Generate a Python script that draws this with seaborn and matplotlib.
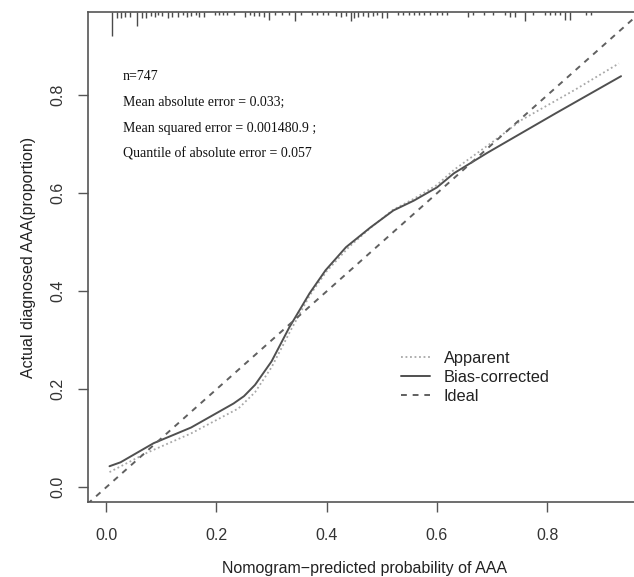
import matplotlib
matplotlib.use("Agg")
import matplotlib.pyplot as plt
import matplotlib.transforms as mtransforms
import seaborn as sns
import pandas as pd
import numpy as np

# ---- data ----
bias_x = [0.006, 0.026, 0.086, 0.154, 0.231, 0.250, 0.270, 0.300, 0.332, 0.369, 0.398,
          0.435, 0.479, 0.521, 0.558, 0.600, 0.631, 0.692, 0.815, 0.934]
bias_y = [0.043, 0.051, 0.090, 0.122, 0.171, 0.186, 0.209, 0.257, 0.326, 0.396, 0.443,
          0.490, 0.530, 0.565, 0.585, 0.612, 0.641, 0.683, 0.763, 0.839]

appar_x = [0.006, 0.075, 0.154, 0.240, 0.270, 0.300, 0.335, 0.370, 0.400, 0.440, 0.480,
           0.520, 0.560, 0.600, 0.631, 0.700, 0.754, 0.850, 0.930]
appar_y = [0.031, 0.071, 0.110, 0.161, 0.194, 0.245, 0.321, 0.393, 0.441, 0.490, 0.530,
           0.566, 0.590, 0.617, 0.648, 0.704, 0.750, 0.811, 0.865]

ideal_x = [-0.05, 1.0]
ideal_y = [-0.05, 1.0]

# rug (histogram of predicted probabilities along the top)
rug_x = [0.010, 0.020, 0.027, 0.035, 0.044, 0.056, 0.065, 0.073, 0.081, 0.088, 0.094,
         0.102, 0.112, 0.120, 0.130, 0.139, 0.147, 0.154, 0.163, 0.169, 0.177, 0.197,
         0.204, 0.212, 0.220, 0.231, 0.252, 0.261, 0.269, 0.278, 0.287, 0.296, 0.307,
         0.319, 0.332, 0.342, 0.353, 0.374, 0.383, 0.393, 0.402, 0.417, 0.426, 0.435,
         0.445, 0.449, 0.457, 0.466, 0.475, 0.484, 0.492, 0.500, 0.509, 0.530, 0.539,
         0.549, 0.558, 0.567, 0.576, 0.588, 0.600, 0.610, 0.619, 0.656, 0.665, 0.686,
         0.701, 0.723, 0.732, 0.741, 0.760, 0.775, 0.796, 0.806, 0.815, 0.824, 0.833,
         0.842, 0.870, 0.879]
rug_n = [24, 6, 6, 5, 5, 14, 6, 6, 4, 5, 3,
         4, 6, 5, 5, 3, 5, 4, 3, 5, 5, 3,
         3, 3, 3, 3, 5, 3, 4, 4, 5, 8, 3,
         3, 3, 9, 3, 3, 3, 3, 3, 4, 5, 4,
         9, 6, 5, 4, 5, 4, 3, 6, 6, 3, 3,
         3, 3, 3, 3, 3, 3, 3, 3, 5, 3, 3,
         3, 3, 5, 5, 9, 3, 3, 3, 3, 3, 8,
         8, 3, 3]

stats_lines = ["n=747",
               "Mean absolute error = 0.033;",
               "Mean squared error = 0.001480.9 ;",
               "Quantile of absolute error = 0.057"]
x_ticks = [0.0, 0.2, 0.4, 0.6, 0.8]
y_ticks = [0.0, 0.2, 0.4, 0.6, 0.8]
x_label = "Nomogram\u2212predicted probability of AAA"
y_label = "Actual diagnosed AAA(proportion)"

# ---- styling ----
sns.set_style("ticks")
plt.rcParams['font.family'] = ['Liberation Sans', 'DejaVu Sans']

W, H = 634, 577
fig = plt.figure(figsize=(W / 100, H / 100), dpi=100)
ax = fig.add_axes([88 / W, (H - 502) / H, (W - 88) / W + 0.01, 490 / H])

df_b = pd.DataFrame({"x": bias_x, "y": bias_y})
df_a = pd.DataFrame({"x": appar_x, "y": appar_y})
df_i = pd.DataFrame({"x": ideal_x, "y": ideal_y})

sns.lineplot(data=df_a, x="x", y="y", ax=ax, color="#a8a8a8", lw=1.3,
             linestyle=(0, (1, 1.5)), sort=False, estimator=None, label="Apparent")
sns.lineplot(data=df_b, x="x", y="y", ax=ax, color="#505050", lw=1.4,
             sort=False, estimator=None, label="Bias-corrected")
sns.lineplot(data=df_i, x="x", y="y", ax=ax, color="#606060", lw=1.4,
             linestyle=(0, (3, 3)), sort=False, estimator=None, label="Ideal")

ax.set_xlim(-0.033, 0.969)
ax.set_ylim(-0.030, 0.970)

# rug along top
trans = mtransforms.blended_transform_factory(ax.transData, ax.transAxes)
rug_h = [1 - n / 490 for n in rug_n]
ax.vlines(rug_x, rug_h, [1.0] * len(rug_x), transform=trans, color="#4a4a4a", lw=1.0)

ax.set_xticks(x_ticks)
ax.set_yticks(y_ticks)
ax.set_xticklabels([f"{v:.1f}" for v in x_ticks], fontsize=11.5, color="#333333")
ax.set_yticklabels([f"{v:.1f}" for v in y_ticks], fontsize=11.5, color="#333333",
                   rotation=90, va="center")
ax.tick_params(axis="both", direction="out", length=7, width=1.0, color="#555555")
ax.tick_params(axis="x", pad=12)
ax.tick_params(axis="y", pad=9.5)
for s in ["left", "bottom", "top"]:
    ax.spines[s].set_color("#555555")
    ax.spines[s].set_linewidth(1.2)
ax.spines["right"].set_visible(False)

ax.set_xlabel("")
ax.set_ylabel("")
fig.text(364 / W, 1 - 568 / H, x_label, ha="center", va="center", fontsize=11.5,
         color="#222222")
fig.text(28 / W, 1 - 257 / H, y_label, ha="center", va="center", fontsize=11.5,
         color="#222222", rotation=90)

# stats text
for i, t in enumerate(stats_lines):
    fig.text(123 / W, 1 - (77 + 25.7 * i) / H, t, ha="left", va="center",
             fontsize=10, family=["Liberation Serif", "DejaVu Serif"], color="#111111")

leg = ax.legend(loc="upper left", bbox_to_anchor=(401 / W, 1 - 351 / H),
                bbox_transform=fig.transFigure, frameon=False, fontsize=11.8,
                handlelength=1.77, handletextpad=0.85, borderpad=0, borderaxespad=0,
                labelspacing=0.24)
for t in leg.get_texts():
    t.set_color("#222222")

fig.savefig("out.png", dpi=100)
